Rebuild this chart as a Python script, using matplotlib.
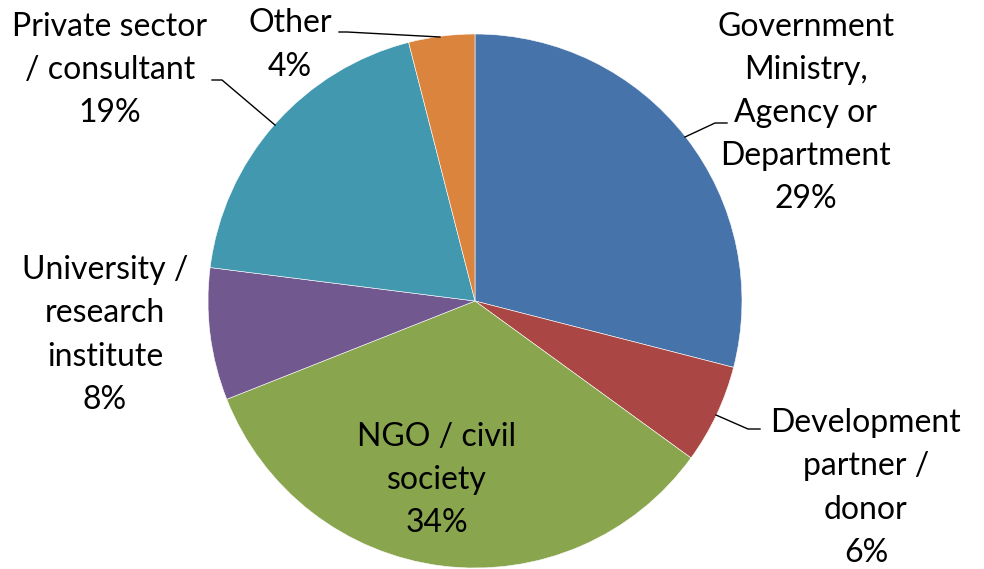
import matplotlib.pyplot as plt

labels = ["Government\nMinistry,\nAgency or\nDepartment", "Development\npartner /\ndonor",
          "NGO / civil\nsociety", "University /\nresearch\ninstitute",
          "Private sector\n/ consultant", "Other"]
shares = [29, 6, 34, 8, 19, 4]
colors = ["#4674AA", "#AA4644", "#89A54E", "#71588F", "#4198AF", "#DB843D"]

# pixel geometry of the reference (center and radius)
cx, cy, R = 475, 301, 267


def px(x, y):
    return (x - cx) / R, (cy - y) / R


fig = plt.figure(figsize=(9.84, 5.69), dpi=100)
ax = fig.add_axes([0, 0, 1, 1])
ax.pie(shares, colors=colors, startangle=90, counterclock=False, radius=1,
       wedgeprops=dict(edgecolor="white", linewidth=0.4))
ax.set_xlim((0 - cx) / R, (984 - cx) / R)
ax.set_ylim((cy - 569) / R, cy / R)
ax.set_aspect("equal")
ax.axis("off")

plt.rcParams['font.family'] = ['Lato', 'DejaVu Sans']
fs = 23
# label centers in pixels
pos = [(806, 113), (866, 488), (437, 480), (105, 335), (110, 70), (290, 45)]
for lab, v, (x, y) in zip(labels, shares, pos):
    tx, ty = px(x, y)
    ax.text(tx, ty, lab + "\n%d%%" % v, ha="center", va="center", fontsize=fs,
            linespacing=1.55, color="black")

leaders = [
    [(685, 137), (715, 123), (727, 123)],
    [(716, 415), (748, 429), (760, 429)],
    [(440, 37), (347, 32), (339, 32)],
    [(275, 125), (222, 80), (212, 80)],
]
for pts in leaders:
    xs, ys = zip(*[px(a, b) for a, b in pts])
    ax.plot(xs, ys, color="black", lw=1)

fig.savefig("out.png", dpi=100)
